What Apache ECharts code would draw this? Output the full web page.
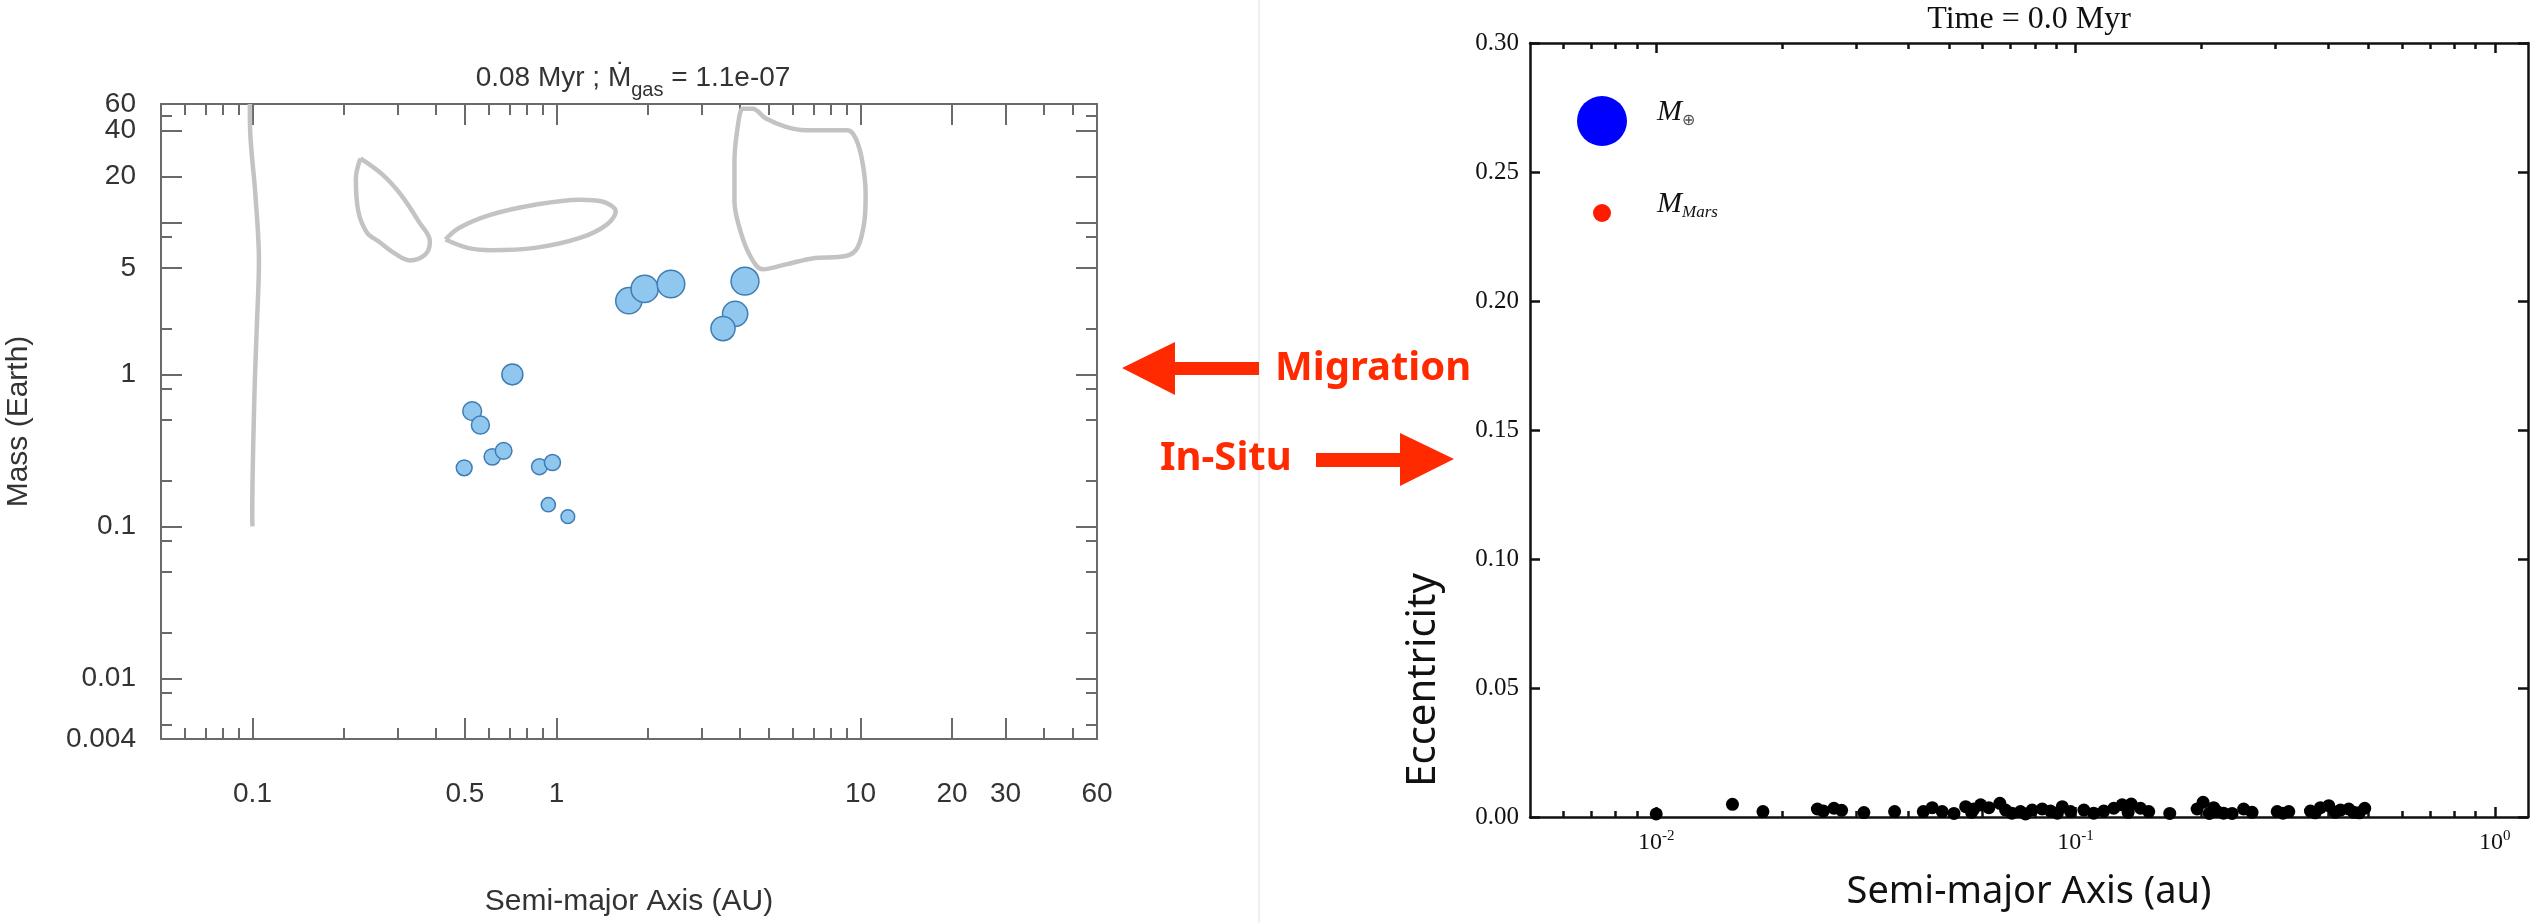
<!DOCTYPE html>
<html>
<head>
<meta charset="utf-8">
<script src="https://cdn.jsdelivr.net/npm/echarts@6/dist/echarts.min.js"></script>
<style>
  html, body { margin: 0; padding: 0; background: #ffffff; }
  #chart { width: 2534px; height: 923px; }
</style>
</head>
<body>
<div id="chart"></div>
<script>
// ---------- Left panel: embryo masses vs. semi-major axis at 0.08 Myr ----------
const embryoA = [1.73, 1.95, 2.38, 4.17, 3.87, 3.53, 0.716, 0.528, 0.562, 0.615, 0.67, 0.497, 0.879, 0.97, 0.94, 1.09];
const embryoM = [3.05, 3.65, 3.93, 4.1, 2.5, 2.0, 1.0, 0.573, 0.464, 0.287, 0.314, 0.243, 0.247, 0.263, 0.139, 0.116];

// zero-torque contours of the migration map, [a (AU), M (Earth)]
const contourInner = [[0.098, 60], [0.0982, 41], [0.1022, 15.2], [0.105, 5.56], [0.1033, 2.04], [0.1015, 0.748], [0.0998, 0.116], [0.1, 0.1]];
const contourLobe = [[0.2265, 26.3], [0.2683, 20.5], [0.3075, 15.2], [0.352, 10.15], [0.3834, 7.51], [0.3705, 6.15], [0.329, 5.62], [0.297, 6.15], [0.2595, 7.51], [0.2384, 8.51], [0.2229, 11.8], [0.2188, 19.5], [0.2265, 26.3]];
const contourBand = [[0.4315, 7.71], [0.511, 6.79], [0.6057, 6.56], [0.85, 6.79], [1.194, 7.89], [1.464, 9.66], [1.566, 11.8], [1.414, 13.7], [1.194, 14.1], [0.85, 13.05], [0.6057, 11.2], [0.4777, 9.18], [0.4315, 7.71]];
const contourOuter = [[4.0, 50.6], [3.85, 25.0], [3.85, 13.7], [4.0, 9.18], [4.31, 6.15], [4.77, 4.91], [5.69, 5.29], [6.95, 5.79], [8.95, 6.0], [9.77, 6.79], [10.3, 10.15], [10.4, 15.2], [10.15, 25.0], [9.65, 35.6], [9.06, 40.3], [6.61, 40.3], [5.69, 42.4], [4.89, 48.1], [4.42, 55.8], [4.10, 55.8], [4.0, 50.6]];

const leftXLabels = [0.1, 0.5, 1, 10, 20, 30, 60];
const leftXMajor = [0.1, 0.5, 1, 10, 20, 30];
const leftXMinor = [0.06, 0.07, 0.08, 0.09, 0.2, 0.3, 0.4, 0.6, 0.7, 0.8, 0.9, 2, 3, 4, 5, 6, 7, 8, 9, 40, 50];
const leftYLabels = [60, 40, 20, 5, 1, 0.1, 0.01, 0.004];
const leftYMajor = [40, 20, 10, 5, 1, 0.1, 0.01];
const leftYMinor = [50, 8, 2, 0.8, 0.5, 0.2, 0.08, 0.05, 0.02, 0.008, 0.005];

// ---------- Right panel: eccentricity vs. semi-major axis at t = 0 ----------
const bodyA = [0.0100, 0.0152, 0.01797, 0.02423, 0.02504, 0.02654, 0.02768, 0.03128, 0.03703, 0.04335,
  0.04553, 0.04809, 0.0513, 0.0547, 0.05722, 0.0594, 0.06214, 0.066, 0.0681, 0.0739,
  0.0788, 0.0833, 0.0872, 0.0930, 0.0973, 0.1047, 0.1168, 0.1234, 0.1292, 0.1358,
  0.1429, 0.1495, 0.1678, 0.195, 0.2015, 0.2136, 0.2177, 0.2363, 0.2518, 0.2637,
  0.3027, 0.3226, 0.3633, 0.3838, 0.4018, 0.4284, 0.4484, 0.461, 0.4895,
  0.0565, 0.0705, 0.076, 0.0905, 0.1105, 0.1335, 0.2085, 0.2255, 0.3125, 0.373, 0.4165, 0.475];
const bodyE = [0.0012, 0.0049, 0.0021, 0.0031, 0.0023, 0.0034, 0.0026, 0.0017, 0.0021, 0.0021,
  0.0036, 0.0021, 0.0014, 0.0040, 0.0031, 0.0047, 0.0036, 0.0053, 0.0027, 0.0021,
  0.0027, 0.0031, 0.0023, 0.0040, 0.0021, 0.0027, 0.0023, 0.0034, 0.0047, 0.0050,
  0.0034, 0.0021, 0.0014, 0.0031, 0.0057, 0.0036, 0.0021, 0.0014, 0.0031, 0.0018,
  0.0021, 0.0021, 0.0023, 0.0036, 0.0044, 0.0027, 0.0031, 0.0018, 0.0034,
  0.0018, 0.0015, 0.0012, 0.0015, 0.0015, 0.0018, 0.0014, 0.0015, 0.0015, 0.0016, 0.0018, 0.0016];

const rightXLabels = [0.01, 0.1, 1];
const rightXMajor = [0.01, 0.1, 1];
const rightXMinor = [0.006, 0.007, 0.008, 0.009, 0.02, 0.03, 0.04, 0.05, 0.06, 0.07, 0.08, 0.09,
  0.2, 0.3, 0.4, 0.5, 0.6, 0.7, 0.8, 0.9];

// ---------- styling ----------
const SANS = "'Liberation Sans', Arial, sans-serif";
const SERIF = "'Liberation Serif', 'Times New Roman', serif";
const CALIBRI = "'Noto Sans', 'Open Sans', sans-serif";
const leftFrame = { color: '#6a6a6a', width: 2 };
const rightFrame = { color: '#111111', width: 2.5 };
const RED = '#ff2a00';

const LX = [0.05, 60], LY = [0.004, 60];
const RX = [0.005, 1.2], RY = [0, 0.3];

function fmtNum(v) { return String(+(+v).toPrecision(3)); }
// keep edge labels just inside the axis extent
function inside(vals, range) {
  return vals.map(v => Math.min(Math.max(v, range[0] * 1.0001), range[1] * 0.9999));
}

function frameAxis(c) {
  const ax = {
    type: c.type || 'log', logBase: 10, gridIndex: c.grid, position: c.pos,
    min: c.range[0], max: c.range[1], offset: 0,
    splitLine: { show: false }, splitArea: { show: false }, minorTick: { show: false },
    axisLine: { show: !!c.line, onZero: false, lineStyle: c.style },
    axisTick: { show: true, inside: true, length: c.len, lineStyle: c.style },
    axisLabel: c.label || { show: false },
    axisPointer: { show: false }, silent: true, nameMoveOverlap: false
  };
  if (c.ticks) ax.axisTick.customValues = c.ticks;
  if (c.interval) ax.interval = c.interval;
  if (c.name) Object.assign(ax, c.name);
  return ax;
}

const leftTickLabel = { fontFamily: SANS, fontSize: 28, color: '#333333', showMinLabel: true, showMaxLabel: true, hideOverlap: false };
// the top-edge "60" sits on the companion axis so it never crowds out "40"
const leftYTop = inside(leftYLabels, LY).filter(v => v > 50);
const leftYRest = inside(leftYLabels, LY).filter(v => v <= 50);

const xAxes = [
  frameAxis({ grid: 0, pos: 'bottom', range: LX, style: leftFrame, line: true, len: 21, ticks: leftXMajor,
    label: Object.assign({ show: true, customValues: inside(leftXLabels, LX), formatter: fmtNum, margin: 41 }, leftTickLabel),
    name: { name: 'Semi-major Axis (AU)', nameLocation: 'middle', nameGap: 148,
      nameTextStyle: { fontFamily: SANS, fontSize: 30, color: '#333333' } } }),
  frameAxis({ grid: 0, pos: 'bottom', range: LX, style: leftFrame, len: 11, ticks: leftXMinor }),
  frameAxis({ grid: 0, pos: 'top', range: LX, style: leftFrame, line: true, len: 21, ticks: leftXMajor }),
  frameAxis({ grid: 0, pos: 'top', range: LX, style: leftFrame, len: 11, ticks: leftXMinor }),
  frameAxis({ grid: 1, pos: 'bottom', range: RX, style: rightFrame, line: true, len: 10, ticks: rightXMajor,
    label: { show: true, customValues: rightXLabels, margin: 12, hideOverlap: false, showMinLabel: true, showMaxLabel: true,
      formatter: v => '{b|10}{e|' + Math.round(Math.log10(v)) + '}',
      rich: {
        b: { fontFamily: SERIF, fontSize: 24, color: '#111111', lineHeight: 28 },
        e: { fontFamily: SERIF, fontSize: 15, color: '#111111', verticalAlign: 'top', lineHeight: 16 }
      } },
    name: { name: 'Semi-major Axis (au)', nameLocation: 'middle', nameGap: 56,
      nameTextStyle: { fontFamily: CALIBRI, fontSize: 38, color: '#111111' } } }),
  frameAxis({ grid: 1, pos: 'bottom', range: RX, style: rightFrame, len: 6, ticks: rightXMinor }),
  frameAxis({ grid: 1, pos: 'top', range: RX, style: rightFrame, line: true, len: 10, ticks: rightXMajor }),
  frameAxis({ grid: 1, pos: 'top', range: RX, style: rightFrame, len: 6, ticks: rightXMinor })
];

const yAxes = [
  frameAxis({ grid: 0, pos: 'left', range: LY, style: leftFrame, line: true, len: 21, ticks: leftYMajor,
    label: Object.assign({ show: true, customValues: leftYRest, formatter: fmtNum, margin: 25 }, leftTickLabel),
    name: { name: 'Mass (Earth)', nameLocation: 'middle', nameGap: 127, nameRotate: 90,
      nameTextStyle: { fontFamily: SANS, fontSize: 30, color: '#333333' } } }),
  frameAxis({ grid: 0, pos: 'left', range: LY, style: leftFrame, len: 11, ticks: leftYMinor,
    label: Object.assign({ show: true, customValues: leftYTop, formatter: fmtNum, margin: 25 }, leftTickLabel) }),
  frameAxis({ grid: 0, pos: 'right', range: LY, style: leftFrame, line: true, len: 21, ticks: leftYMajor }),
  frameAxis({ grid: 0, pos: 'right', range: LY, style: leftFrame, len: 11, ticks: leftYMinor }),
  frameAxis({ grid: 1, type: 'value', pos: 'left', range: RY, interval: 0.05, style: rightFrame, line: true, len: 10,
    label: { show: true, margin: 11, hideOverlap: false, showMinLabel: true, showMaxLabel: true, formatter: v => v.toFixed(2),
      fontFamily: SERIF, fontSize: 25, color: '#111111' } }),
  frameAxis({ grid: 1, type: 'value', pos: 'right', range: RY, interval: 0.05, style: rightFrame, line: true, len: 10 })
];

function contour(data) {
  return {
    type: 'line', xAxisIndex: 0, yAxisIndex: 0, data: data, smooth: 0.35,
    symbol: 'none', showSymbol: false, silent: true, z: 2,
    lineStyle: { color: '#c3c3c3', width: 4.5 }
  };
}

const option = {
  animation: false,
  backgroundColor: '#ffffff',
  grid: [
    { left: 161, top: 104, width: 936, height: 635, containLabel: false, outerBoundsMode: 'none' },
    { left: 1530, top: 43, width: 998, height: 774, containLabel: false, outerBoundsMode: 'none' }
  ],
  title: [
    { text: '0.08 Myr ; Ṁ{sub|gas} = 1.1e-07', left: 633, top: 56, textAlign: 'center', padding: 0,
      textStyle: { fontFamily: SANS, fontSize: 28, fontWeight: 'normal', color: '#333333', lineHeight: 44,
        rich: { sub: { fontFamily: SANS, fontSize: 20, color: '#333333', verticalAlign: 'bottom', lineHeight: 22 } } } },
    { text: 'Time = 0.0 Myr', left: 2029, top: 4, textAlign: 'center', padding: 0,
      textStyle: { fontFamily: SERIF, fontSize: 32, fontWeight: 'normal', color: '#111111' } }
  ],
  legend: [
    { data: [{ name: 'earthMass', icon: 'circle', itemStyle: { color: '#0000ff', opacity: 1 } }],
      left: 1577, top: 96, padding: 0, itemWidth: 50, itemHeight: 50,
      selectedMode: false, formatter: () => '{m|M}{s|⊕}',
      itemStyle: { color: '#0000ff', opacity: 1, borderWidth: 0 },
      textStyle: { rich: {
        m: { fontFamily: SERIF, fontStyle: 'italic', fontSize: 30, color: '#111111', lineHeight: 36, padding: [0, 0, 18, 25] },
        s: { fontFamily: SERIF, fontSize: 16, color: '#555555' } } } },
    { data: [{ name: 'marsMass', icon: 'circle', itemStyle: { color: '#ff1a00', opacity: 1 } }],
      left: 1593, top: 189, padding: 0, itemWidth: 18, itemHeight: 18,
      selectedMode: false, formatter: () => '{m|M}{s|Mars}',
      itemStyle: { color: '#ff1a00', opacity: 1, borderWidth: 0 },
      textStyle: { rich: {
        m: { fontFamily: SERIF, fontStyle: 'italic', fontSize: 30, color: '#111111', lineHeight: 36, padding: [0, 0, 18, 41] },
        s: { fontFamily: SERIF, fontStyle: 'italic', fontSize: 17, color: '#111111' } } } }
  ],
  xAxis: xAxes,
  yAxis: yAxes,
  series: [
    contour(contourInner),
    contour(contourLobe),
    contour(contourBand),
    contour(contourOuter),
    {
      type: 'scatter', name: 'embryos', xAxisIndex: 0, yAxisIndex: 0, z: 3, silent: true,
      data: embryoA.map((a, i) => [a, embryoM[i]]),
      symbolSize: v => 21 * Math.pow(v[1], 0.2),
      itemStyle: { color: '#8fc7ee', borderColor: '#3f7db2', borderWidth: 1.5, opacity: 1 }
    },
    {
      type: 'scatter', name: 'bodies', xAxisIndex: 4, yAxisIndex: 4, z: 3, silent: true,
      data: bodyA.map((a, i) => [a, bodyE[i]]),
      symbolSize: 13,
      itemStyle: { color: '#000000', opacity: 1 }
    },
    { type: 'scatter', name: 'earthMass', xAxisIndex: 4, yAxisIndex: 4, data: [], itemStyle: { color: '#0000ff', opacity: 1 } },
    { type: 'scatter', name: 'marsMass', xAxisIndex: 4, yAxisIndex: 4, data: [], itemStyle: { color: '#ff1a00', opacity: 1 } }
  ],
  graphic: [
    { type: 'line', silent: true, z: -10, shape: { x1: 1259, y1: 0, x2: 1259, y2: 923 },
      style: { stroke: '#efefef', lineWidth: 2 } },
    { type: 'polygon', silent: true,
      shape: { points: [[1122, 368], [1175, 342], [1175, 362], [1259, 362], [1259, 375], [1175, 375], [1175, 395]] },
      style: { fill: RED } },
    { type: 'polygon', silent: true,
      shape: { points: [[1454, 459], [1400, 433], [1400, 453], [1316, 453], [1316, 467], [1400, 467], [1400, 486]] },
      style: { fill: RED } },
    { type: 'text', silent: true, x: 1275, y: 369,
      style: { text: 'Migration', fill: RED, fontFamily: CALIBRI, fontWeight: 'bold', fontSize: 40, align: 'left', verticalAlign: 'middle' } },
    { type: 'text', silent: true, x: 1160, y: 459,
      style: { text: 'In-Situ', fill: RED, fontFamily: CALIBRI, fontWeight: 'bold', fontSize: 40, align: 'left', verticalAlign: 'middle' } },
    { type: 'text', silent: true, x: 1424, y: 680, rotation: Math.PI / 2,
      style: { text: 'Eccentricity', fill: '#111111', fontFamily: CALIBRI, fontSize: 40, align: 'center', verticalAlign: 'middle' } }
  ]
};

const chart = echarts.init(document.getElementById('chart'), null, { renderer: 'canvas' });
chart.setOption(option);
</script>
</body>
</html>
